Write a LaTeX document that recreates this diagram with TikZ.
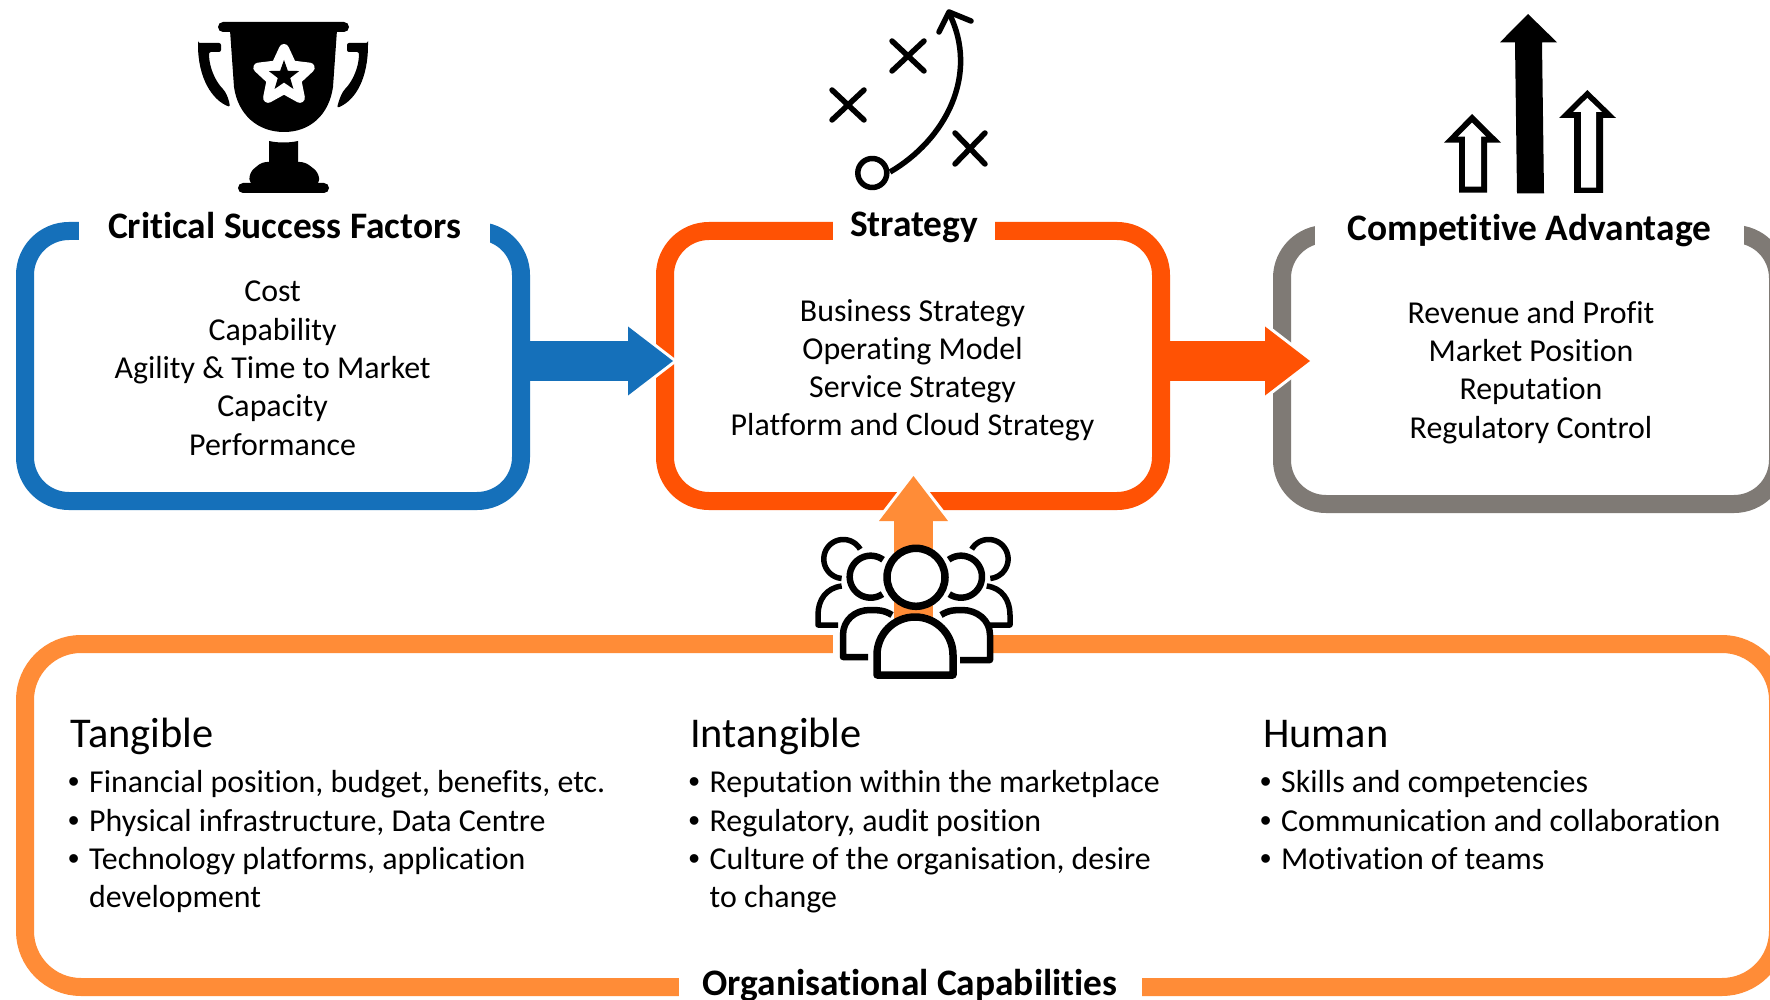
\documentclass[tikz,border=0pt]{standalone}
\usepackage{fontspec}
\setmainfont[Ligatures=NoCommon]{Carlito}
\newfontfamily\bulfont{Liberation Sans}
\usetikzlibrary{arrows.meta,calc}
\definecolor{csfblue}{RGB}{21,112,186}
\definecolor{stratorange}{RGB}{255,82,4}
\definecolor{advgrey}{RGB}{127,122,117}
\definecolor{orgorange}{RGB}{255,140,55}
\newcommand\bodyfont{\fontsize{31.9}{38.3}\selectfont}
\newcommand\bul{\llap{\makebox[21pt][l]{\bulfont\textbullet}}}
\newcommand\iconarc[6]{\draw[#1] plot[smooth,domain=#5:#6,samples=40] ({#2+#4*cos(\x)},{#3+#4*sin(\x)});}
\tikzset{
  framebox/.style={rectangle,rounded corners=44pt,line width=18pt,inner sep=0pt,outer sep=0pt,minimum height=270pt},
  bodytext/.style={inner sep=0pt,align=center,font=\bodyfont},
  titlelabel/.style={fill=white,anchor=base,inner xsep=0pt,inner ysep=0pt,text height=26pt,text depth=9pt,
    font=\fontsize{37.4}{42}\selectfont\bfseries},
  blockhalo/.style={draw=white,line width=39pt},
  blocklink/.style={line width=39pt},
  colhead/.style={anchor=base west,inner sep=0pt,font=\fontsize{42.4}{50}\selectfont},
  collist/.style={anchor=north west,inner sep=0pt,align=left,font=\bodyfont},
  iconline/.style={line width=5.5pt,line cap=round,line join=round,draw=black},
  person/.style={line width=6.5pt,line cap=butt,line join=round,draw=black},
  backperson/.style={line width=5.5pt,line cap=butt,line join=round,draw=black},
}
\begin{document}
\begin{tikzpicture}[x=1pt,y=-1pt]
\clip (0,0) rectangle (1770,1000);
\fill[white] (0,0) rectangle (1770,1000);

% ---- boxes
\node[framebox,draw=csfblue,minimum width=496pt] (csf) at (273,366) {};
\node[framebox,draw=stratorange,minimum width=496pt] (strat) at (913,366) {};
\node[framebox,draw=advgrey,minimum width=496pt] (adv) at (1530,369) {};
\node[framebox,draw=orgorange,rounded corners=56pt,minimum width=1753pt,minimum height=343pt] (org) at (901.5,815.5) {};

\node[bodytext] (csfb) at (272.6,368.3) {Cost\\Capability\\Agility \& Time to Market\\Capacity\\Performance};
\node[bodytext] (stratb) at (912.5,370.3) {Business Strategy\\Operating Model\\Service Strategy\\Platform and Cloud Strategy};
\node[bodytext] (advb) at (1531,372.4) {Revenue and Profit\\Market Position\\Reputation\\Regulatory Control};

% ---- titles (cut the frames)
\node[titlelabel,minimum width=411pt] (csft) at (284.5,239) {Critical Success Factors};
\node[titlelabel,minimum width=162pt] (stratt) at (914,237) {Strategy};
\node[titlelabel,minimum width=429pt] (advt) at (1529.5,241) {Competitive Advantage};
\node[titlelabel,minimum width=463pt] (orgt) at (910,995.5) {Organisational Capabilities};
\fill[white] (833,630) rectangle (993,660);

% ---- connector anchors
\coordinate (people) at (913.5,640);
\coordinate (midline) at (0,361);

% ---- block arrows
\draw[blockhalo,shorten >=-13pt,-{Triangle[length=50pt,width=77pt,line width=0pt,fill=white,color=white]}] (csf.east |- midline) -- (strat.west |- midline);
\draw[blocklink,draw=csfblue,shorten >=-8pt,-{Triangle[length=45pt,width=69pt,line width=0pt,fill=csfblue,color=csfblue]}] (csf.east |- midline) -- (strat.west |- midline);
\draw[blockhalo,shorten >=-33pt,-{Triangle[length=50pt,width=77pt,line width=0pt,fill=white,color=white]}] (strat.east |- midline) -- (adv.west |- midline);
\draw[blocklink,draw=stratorange,shorten >=-28pt,-{Triangle[length=45pt,width=69pt,line width=0pt,fill=stratorange,color=stratorange]}] (strat.east |- midline) -- (adv.west |- midline);
\draw[blockhalo,shorten >=-30pt,-{Triangle[length=50pt,width=77pt,line width=0pt,fill=white,color=white]}] (people) -- (people |- strat.south);
\draw[blocklink,draw=orgorange,shorten >=-25pt,-{Triangle[length=45pt,width=69pt,line width=0pt,fill=orgorange,color=orgorange]}] (people) -- (people |- strat.south);

% ---- column text
\node[colhead] (h1) at (70.5,747) {Tangible};
\node[collist] (l1) at (89,770.5)
  {\bul Financial position, budget, benefits, etc.\\\bul Physical infrastructure, Data Centre\\\bul Technology platforms, application\\development};
\node[colhead] (h2) at (690,747) {Intangible};
\node[collist] (l2) at (709.5,770.5)
  {\bul Reputation within the marketplace\\\bul Regulatory, audit position\\\bul Culture of the organisation, desire\\to change};
\node[colhead] (h3) at (1263,747) {Human};
\node[collist] (l3) at (1281,770.5)
  {\bul Skills and competencies\\\bul Communication and collaboration\\\bul Motivation of teams};

% ---- trophy icon
\fill[black,rounded corners=5pt] (218,22) rectangle (349,32);
\fill[black] (230,30) -- (234,87) .. controls (238,115) and (258,132) .. (284,132) .. controls (310,132) and (329,115) .. (333,87) -- (337,30) -- cycle;
\fill[black,rounded corners=2pt] (198,43) -- (221,43) -- (221,52) -- (209,52) .. controls (209,68) and (216,82) .. (224,90) .. controls (227,95) and (229,100) .. (230,107) .. controls (212,100) and (198,78) .. (198,43) -- cycle;
\fill[black,rounded corners=2pt] (368,43) -- (347,43) -- (347,52) -- (359,52) .. controls (359,68) and (352,82) .. (344,90) .. controls (341,95) and (339,100) .. (337,108) .. controls (356,100) and (368,78) .. (368,43) -- cycle;
\fill[black] (269,141) .. controls (278,143) and (289,143) .. (298,141) -- (298,163) -- (269,163) -- cycle;
\fill[black,rounded corners=5pt] (249,184) -- (250,172) -- (262,162) -- (305,162) -- (318,172) -- (320,184) -- cycle;
\fill[black,rounded corners=5pt] (238,183) rectangle (329,193);
\coordinate (tstar) at (284,76);
\draw[white,fill=white,line width=10pt,line join=round]
  ($(tstar)+(-90:27)$) -- ($(tstar)+(-54:13)$) -- ($(tstar)+(-18:27)$) -- ($(tstar)+(18:13)$) -- ($(tstar)+(54:27)$)
  -- ($(tstar)+(90:13)$) -- ($(tstar)+(126:27)$) -- ($(tstar)+(162:13)$) -- ($(tstar)+(198:27)$) -- ($(tstar)+(234:13)$) -- cycle;
\fill[black]
  ($(tstar)+(-90:16)$) -- ($(tstar)+(-54:6.5)$) -- ($(tstar)+(-18:16)$) -- ($(tstar)+(18:6.5)$) -- ($(tstar)+(54:16)$)
  -- ($(tstar)+(90:6.5)$) -- ($(tstar)+(126:16)$) -- ($(tstar)+(162:6.5)$) -- ($(tstar)+(198:16)$) -- ($(tstar)+(234:6.5)$) -- cycle;

% ---- strategy icon
\draw[iconline] (892,41) -- (924,71) (924,41) -- (892,71);
\draw[iconline] (832,90) -- (864,120) (864,90) -- (832,120);
\draw[iconline] (955,133) -- (985,164) (985,133) -- (955,164);
\draw[iconline] (872.3,173) circle (14.5);
\draw[iconline,line cap=butt] (890,172) .. controls (945,140) and (980,75) .. (949,13);
\draw[iconline] (939,32) -- (949,12) -- (971,21);

% ---- advantage icon
\fill[black] (1528,14) -- (1557,42.3) -- (1542,42.3) -- (1544,193.3) -- (1517,193.3) -- (1515,42.3) -- (1500,42.3) -- cycle;
\fill[black] (1472,114) -- (1501,142.7) -- (1487,142.7) -- (1487,192.7) -- (1459,192.7) -- (1459,142.7) -- (1444,142.7) -- cycle;
\fill[white] (1472,122.7) -- (1486,136.7) -- (1481,136.7) -- (1481,186.7) -- (1465,186.7) -- (1465,136.7) -- (1458,136.7) -- cycle;
\fill[black] (1587.3,90) -- (1616,118) -- (1603,118) -- (1603,193) -- (1574,193) -- (1574,118) -- (1559,118) -- cycle;
\fill[white] (1587.3,98) -- (1602,112) -- (1596,112) -- (1596,187.7) -- (1581,187.7) -- (1581,112) -- (1573,112) -- cycle;

% ---- people icon
\iconarc{backperson}{843.3}{559}{19.5}{95}{330}
\iconarc{backperson}{988.6}{559}{19.5}{-150}{85}
\draw[backperson] (841.7,586) .. controls (826,588) and (818,600) .. (818,615) -- (818,625) -- (838,625);
\draw[backperson] (986.7,586) .. controls (1002,588) and (1010,600) .. (1010,615) -- (1010,625) -- (988,625);
\iconarc{person}{870.7}{576.7}{21}{56}{306}
\iconarc{person}{961}{576.7}{21}{-126}{124}
\draw[person] (892,615) .. controls (884,610) and (878,610) .. (870,610) .. controls (855,610) and (843,620) .. (843,635) -- (843,657) -- (868,657);
\draw[person] (941,615) .. controls (949,610) and (955,610) .. (962,610) .. controls (977,610) and (990,620) .. (990,635) -- (990,660) -- (960,660);
\draw[person,line width=7.5pt,fill=white] (916,577.3) circle (29);
\draw[person,line width=7.5pt,fill=white] (877,675) -- (877,655) .. controls (877,634) and (894,617) .. (915,617) .. controls (936,617) and (953,634) .. (953,655) -- (953,675) -- cycle;
\end{tikzpicture}
\end{document}
